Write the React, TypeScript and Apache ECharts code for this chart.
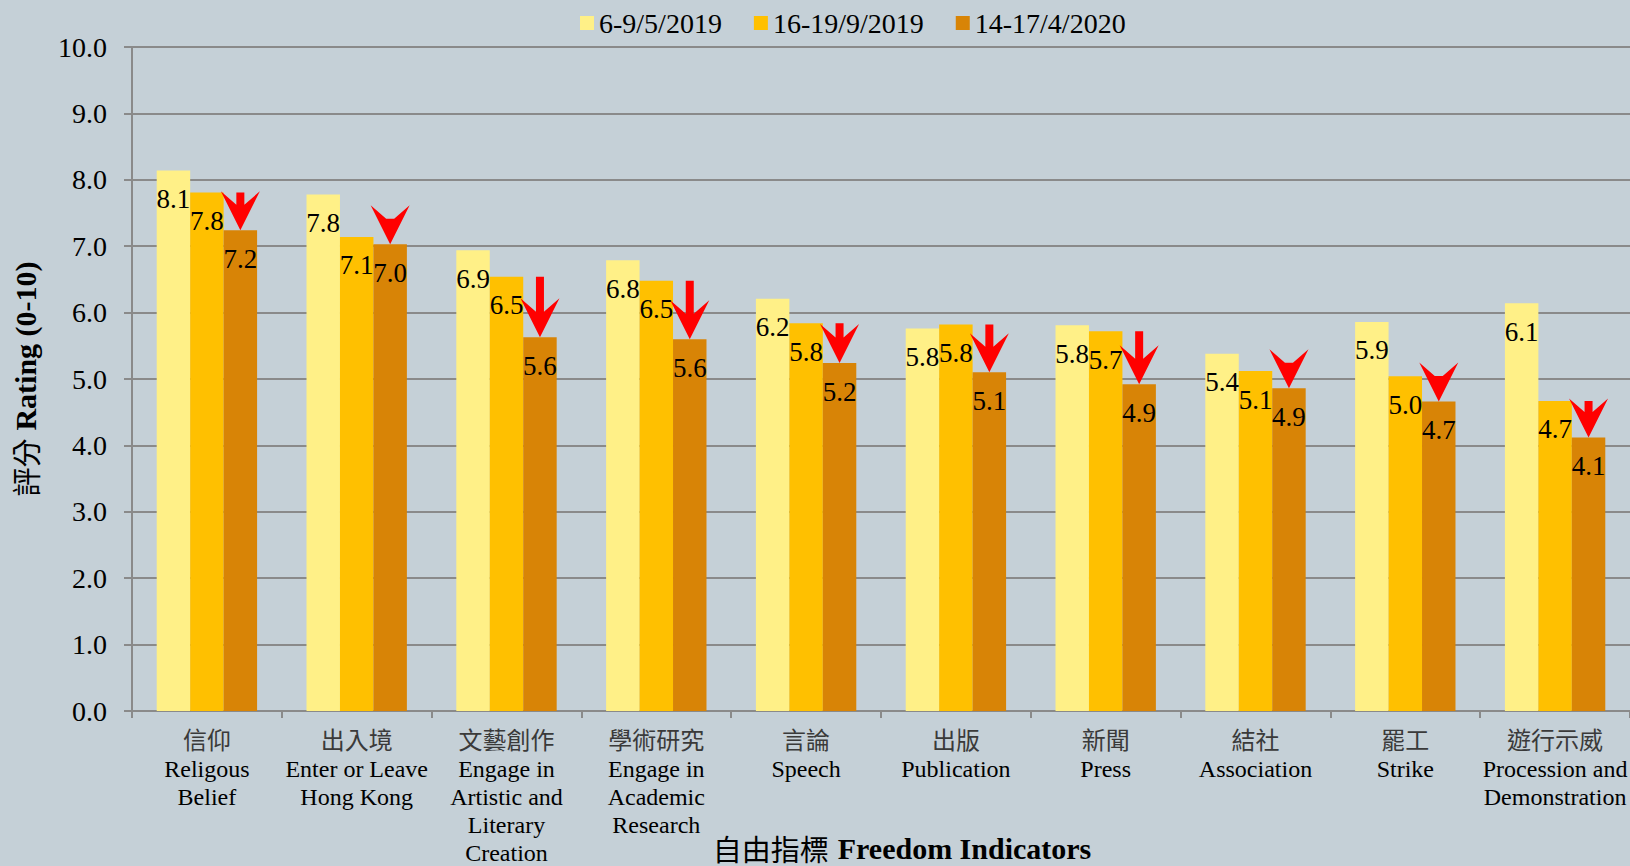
import React, { useEffect, useRef } from "react";
import * as echarts from "echarts";

const categoriesZh = ["信仰", "出入境", "文藝創作", "學術研究", "言論", "出版", "新聞", "結社", "罷工", "遊行示威"];
const categoriesEn = [
  ["Religous", "Belief"],
  ["Enter or Leave", "Hong Kong"],
  ["Engage in", "Artistic and", "Literary", "Creation"],
  ["Engage in", "Academic", "Research"],
  ["Speech"],
  ["Publication"],
  ["Press"],
  ["Association"],
  ["Strike"],
  ["Procession and", "Demonstration"],
];
const seriesNames = ["6-9/5/2019", "16-19/9/2019", "14-17/4/2020"];
const may2019 = [8.14, 7.78, 6.94, 6.79, 6.21, 5.76, 5.81, 5.38, 5.86, 6.14];
const sep2019 = [7.81, 7.14, 6.54, 6.48, 5.84, 5.82, 5.72, 5.12, 5.04, 4.67];
const apr2020 = [7.24, 7.03, 5.63, 5.6, 5.24, 5.1, 4.92, 4.86, 4.66, 4.12];
const colors = ["#FFF087", "#FFC000", "#D88406"];

const SERIF = "Liberation Serif";
const CJK = "Noto Sans CJK TC";
const BAR_GAP_RATIO = 0.33;

export default function App() {
  const ref = useRef<HTMLDivElement>(null);
  useEffect(() => {
    document.body.style.margin = "0";
    const chart = echarts.init(ref.current!, null, { renderer: "svg" });
    const label = {
      show: true,
      position: "insideTop",
      distance: 15,
      color: "#000",
      fontFamily: SERIF,
      fontSize: 27,
      lineHeight: 27,
      formatter: (p: any) => Number(p.value).toFixed(1),
    };
    const barSeries = [may2019, sep2019, apr2020].map((d, i) => ({
      name: seriesNames[i],
      type: "bar",
      data: d,
      barGap: "0%",
      barCategoryGap: "33%",
      itemStyle: { color: colors[i] },
      label,
      z: 2,
    }));
    const arrowData = apr2020.map((v, i) => [i, sep2019[i], v]);
    const option: any = {
      animation: false,
      backgroundColor: "#C5D0D7",
      textStyle: { fontFamily: SERIF },
      legend: {
        data: seriesNames,
        left: 575,
        top: 4,
        itemWidth: 14,
        itemHeight: 14,
        itemGap: 32,
        icon: "rect",
        textStyle: { fontFamily: SERIF, fontSize: 28, color: "#000" },
      },
      grid: { left: 132, right: 0, top: 47, bottom: 155, outerBoundsMode: "none", containLabel: false },
      xAxis: {
        type: "category",
        data: categoriesZh,
        name: "{c|自由指標} {b|Freedom Indicators}",
        nameLocation: "middle",
        nameGap: 122,
        nameMoveOverlap: false,
        nameTextStyle: {
          padding: [0, 0, 0, 42],
          rich: {
            c: { fontFamily: CJK, fontSize: 29, lineHeight: 30, color: "#000", padding: [0, 6, 0, 0] },
            b: { fontFamily: SERIF, fontSize: 30, lineHeight: 30, fontWeight: "bold", color: "#000" },
          },
        },
        axisLine: { lineStyle: { color: "#8a8a8a", width: 2 } },
        axisTick: { show: true, length: 7, lineStyle: { color: "#8a8a8a", width: 2 } },
        axisLabel: {
          interval: 0,
          margin: 10,
          formatter: (v: string, idx: number) =>
            ["{c|" + v + "}"].concat(categoriesEn[idx].map((t) => "{e|" + t + "}")).join("\n"),
          rich: {
            c: { fontFamily: CJK, fontSize: 24, color: "#3a3a3a", lineHeight: 34 },
            e: { fontFamily: SERIF, fontSize: 24, color: "#000", lineHeight: 28 },
          },
        },
      },
      yAxis: {
        type: "value",
        min: 0,
        max: 10,
        interval: 1,
        name: "{c|評分} {b|Rating (0-10)}",
        nameLocation: "middle",
        nameGap: 92,
        nameMoveOverlap: false,
        nameTextStyle: {
          rich: {
            c: { fontFamily: CJK, fontSize: 29, color: "#000", padding: [0, 5, 0, 0] },
            b: { fontFamily: SERIF, fontSize: 30, fontWeight: "bold", color: "#000" },
          },
        },
        axisLine: { show: true, lineStyle: { color: "#8a8a8a", width: 2 } },
        axisTick: { show: true, length: 8, lineStyle: { color: "#8a8a8a", width: 2 } },
        splitLine: { show: true, lineStyle: { color: "#8a8a8a", width: 2 } },
        axisLabel: {
          margin: 25,
          fontFamily: SERIF,
          fontSize: 28,
          color: "#000",
          formatter: (v: number) => v.toFixed(1),
        },
      },
      series: [
        ...barSeries,
        {
          type: "custom",
          name: "arrows",
          data: arrowData,
          encode: { x: 0, y: 2 },
          z: 10,
          silent: true,
          renderItem: (params: any, api: any) => {
            const idx = api.value(0);
            const orangeVal = api.value(1);
            const darkVal = api.value(2);
            const band = api.size([1, 0])[0];
            const barW = (band * (1 - BAR_GAP_RATIO)) / 3;
            const [cx, tipY] = api.coord([idx, darkVal]);
            const orangeY = api.coord([idx, orangeVal])[1];
            const x = cx + barW;
            const H = 39;
            const W = 19.5;
            const notch = 22;
            const sh = 4;
            const yn = notch + (sh / W) * (H - notch);
            const stemTop = Math.min(orangeY, tipY - yn);
            return {
              type: "polygon",
              shape: {
                points: [
                  [x, tipY],
                  [x + W, tipY - H],
                  [x + sh, tipY - yn],
                  [x + sh, stemTop],
                  [x - sh, stemTop],
                  [x - sh, tipY - yn],
                  [x - W, tipY - H],
                ],
              },
              style: { fill: "#FF0000" },
            };
          },
        },
      ],
    };
    chart.setOption(option);
    return () => chart.dispose();
  }, []);
  return <div ref={ref} style={{ position: "absolute", left: 0, top: 0, width: 1630, height: 866 }} />;
}
